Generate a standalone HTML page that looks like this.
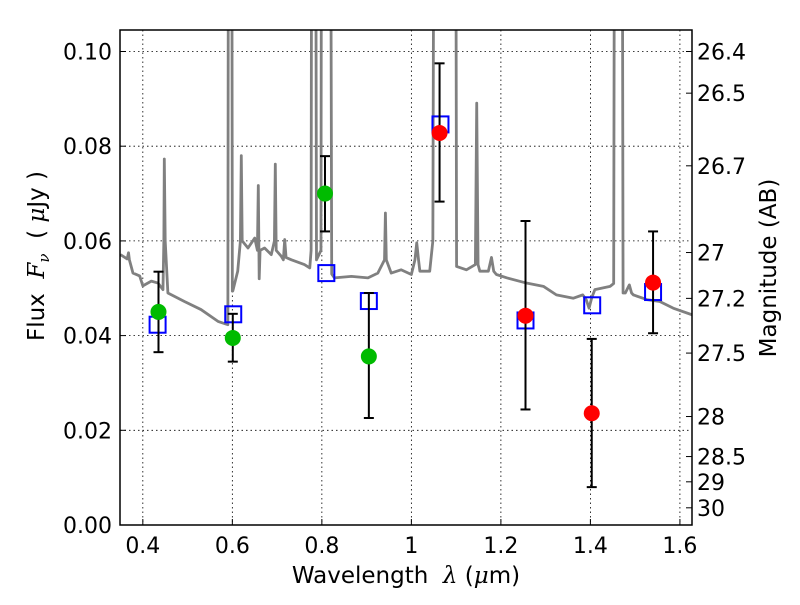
<!DOCTYPE html>
<html><head><meta charset="utf-8"><style>
body{margin:0;background:#fff;}
svg text{font-family:"DejaVu Sans","Liberation Sans",sans-serif;fill:#000;white-space:pre;}
</style></head><body>
<svg id="chart" width="800" height="600" xmlns="http://www.w3.org/2000/svg">
<defs><clipPath id="clip"><rect x="120" y="30" width="572" height="495"/></clipPath></defs>
<rect x="0" y="0" width="800" height="600" fill="#fff"/>
<g id="grid"></g>
<g id="spec" clip-path="url(#clip)"></g>
<g id="marks" clip-path="url(#clip)"></g>
<rect x="120" y="30" width="572" height="495" fill="none" stroke="#000" stroke-width="1.5"/>
<g id="axes"></g>
<text x="406" y="583" font-size="23" text-anchor="middle">Wavelength  <tspan font-style="italic" font-family="DejaVu Serif,serif">λ</tspan> (<tspan font-style="italic" font-family="DejaVu Serif,serif">μ</tspan>m)</text>
<text transform="translate(44,256) rotate(-90)" font-size="23" text-anchor="middle">Flux  <tspan font-style="italic" font-family="DejaVu Serif,serif">F</tspan><tspan font-style="italic" font-family="DejaVu Serif,serif" font-size="15" dy="5">ν</tspan><tspan dy="-5">  ( </tspan><tspan font-style="italic" font-family="DejaVu Serif,serif">μ</tspan>Jy )</text>
<text transform="translate(776,268) rotate(-90)" font-size="23" text-anchor="middle">Magnitude (AB)</text>
</svg>
<script>
const xTicks=[0.4,0.6,0.8,1.0,1.2,1.4,1.6];
const xTickLabels=["0.4","0.6","0.8","1","1.2","1.4","1.6"];
const yTicks=[0,0.02,0.04,0.06,0.08,0.10];
const yTickLabels=["0.00","0.02","0.04","0.06","0.08","0.10"];
const magTicks=[26.4,26.5,26.7,27,27.2,27.5,28,28.5,29,30];
const magTickLabels=["26.4","26.5","26.7","27","27.2","27.5","28","28.5","29","30"];
const specWave=[0.35,0.365,0.368,0.370,0.378,0.393,0.400,0.419,0.434,0.445,0.447,0.448,0.450,0.456,0.493,0.530,0.568,0.590,0.592,0.594,0.598,0.600,0.601,0.612,0.618,0.620,0.622,0.635,0.650,0.656,0.658,0.660,0.662,0.672,0.687,0.694,0.696,0.698,0.709,0.714,0.717,0.720,0.732,0.761,0.773,0.776,0.778,0.785,0.788,0.798,0.800,0.810,0.818,0.822,0.828,0.866,0.903,0.925,0.940,0.942,0.944,0.955,0.977,1.0,1.008,1.012,1.016,1.019,1.041,1.048,1.052,1.098,1.101,1.123,1.143,1.146,1.149,1.153,1.172,1.179,1.184,1.19,1.213,1.257,1.295,1.324,1.362,1.383,1.391,1.397,1.403,1.41,1.444,1.452,1.455,1.470,1.473,1.478,1.487,1.492,1.496,1.526,1.555,1.585,1.627];
const specFlux=[0.0571,0.0562,0.0575,0.0560,0.0532,0.0526,0.0505,0.0515,0.0511,0.0497,0.060,0.0773,0.060,0.049,0.0472,0.0455,0.043,0.0423,0.20,0.20,0.20,0.0494,0.0494,0.0536,0.060,0.078,0.060,0.0585,0.0606,0.058,0.0717,0.052,0.058,0.0585,0.0571,0.060,0.0762,0.058,0.0568,0.056,0.0603,0.0565,0.056,0.055,0.0543,0.058,0.20,0.20,0.056,0.058,0.20,0.20,0.20,0.053,0.0522,0.0525,0.0522,0.0532,0.056,0.0659,0.056,0.0532,0.0539,0.0529,0.056,0.0596,0.056,0.0536,0.0536,0.060,0.20,0.20,0.0546,0.0539,0.055,0.0891,0.055,0.0536,0.0536,0.0565,0.0536,0.0529,0.0522,0.0511,0.0504,0.0486,0.0479,0.0486,0.0475,0.0458,0.0480,0.0497,0.0504,0.0510,0.20,0.20,0.049,0.049,0.0507,0.049,0.0486,0.0476,0.0472,0.0458,0.0444];
const bandWave=[0.435,0.601,0.807,0.905,1.063,1.255,1.403,1.540];
const obsFlux=[0.0450,0.0395,0.0700,0.0356,0.0828,0.0442,0.0236,0.0512];
const obsErrLow=[0.0365,0.0345,0.0620,0.0226,0.0683,0.0244,0.0080,0.0405];
const obsErrHigh=[0.0535,0.0446,0.0779,0.0490,0.0975,0.0642,0.0393,0.0620];
const obsGroup=["green","green","green","green","red","red","red","red"];
const modelWave=[0.433,0.602,0.810,0.905,1.065,1.255,1.404,1.540];
const modelFlux=[0.0423,0.0445,0.0532,0.0473,0.0846,0.0432,0.0464,0.0492];

const X0=0.349,X1=1.627,PX0=120,PX1=692;
const x=w=>PX0+(w-X0)/(X1-X0)*(PX1-PX0);
const y=f=>525-f*4735;
const mag2f=m=>Math.pow(10,(23.9-m)/2.5);
const NS="http://www.w3.org/2000/svg";
function mk(t,a,p){const e=document.createElementNS(NS,t);for(const k in a)e.setAttribute(k,a[k]);p.appendChild(e);return e;}
const grid=document.getElementById('grid'),axes=document.getElementById('axes');
xTicks.forEach((v,i)=>{
  const g=mk('line',{x1:x(v),x2:x(v),y1:30,y2:525,stroke:'#000','stroke-width':0.8,'stroke-dasharray':'1.5,3'},grid);
  
  
  const t=mk('line',{x1:x(v),x2:x(v),y1:525,y2:519,stroke:'#000'},axes);
  
  
  const l=mk('text',{x:x(v),y:553,'font-size':22,'text-anchor':'middle'},axes);l.textContent=xTickLabels[i];
  
  
});
yTicks.forEach((v,i)=>{
  const g=mk('line',{x1:120,x2:692,y1:y(v),y2:y(v),stroke:'#000','stroke-width':0.8,'stroke-dasharray':'1.5,3'},grid);
  
  
  const t=mk('line',{x1:120,x2:126,y1:y(v),y2:y(v),stroke:'#000'},axes);
  
  
  const l=mk('text',{x:112,y:y(v)+8,'font-size':22,'text-anchor':'end'},axes);l.textContent=yTickLabels[i];
  
  
});
magTicks.forEach((m,i)=>{
  const yy=y(mag2f(m));
  const t=mk('line',{x1:686,x2:692,y1:yy,y2:yy,stroke:'#000'},axes);
  
  
  const l=mk('text',{x:697,y:yy+8,'font-size':22},axes);l.textContent=magTickLabels[i];
  
  
});
const spec=document.getElementById('spec');
const pl=mk('polyline',{points:specWave.map((w,i)=>x(w)+','+y(specFlux[i])).join(' '),fill:'none',stroke:'#808080','stroke-width':2.8,'stroke-linejoin':'round'},spec);


const marks=document.getElementById('marks');
modelWave.forEach((w,i)=>{
  const s=mk('rect',{x:x(w)-8,y:y(modelFlux[i])-8,width:16,height:16,fill:'none',stroke:'#0000ff','stroke-width':2},marks);
  
  
});
bandWave.forEach((w,i)=>{
  const g=mk('g',{},marks);
  
  
  const cx=x(w);
  mk('line',{x1:cx,x2:cx,y1:y(obsErrLow[i]),y2:y(obsErrHigh[i]),stroke:'#000','stroke-width':2},g);
  mk('line',{x1:cx-5,x2:cx+5,y1:y(obsErrLow[i]),y2:y(obsErrLow[i]),stroke:'#000','stroke-width':2},g);
  mk('line',{x1:cx-5,x2:cx+5,y1:y(obsErrHigh[i]),y2:y(obsErrHigh[i]),stroke:'#000','stroke-width':2},g);
  const c=mk('circle',{cx:cx,cy:y(obsFlux[i]),r:8,fill:obsGroup[i]==='green'?'#00bb00':'#ff0000'},marks);
  
  
});
</script>
</body></html>
